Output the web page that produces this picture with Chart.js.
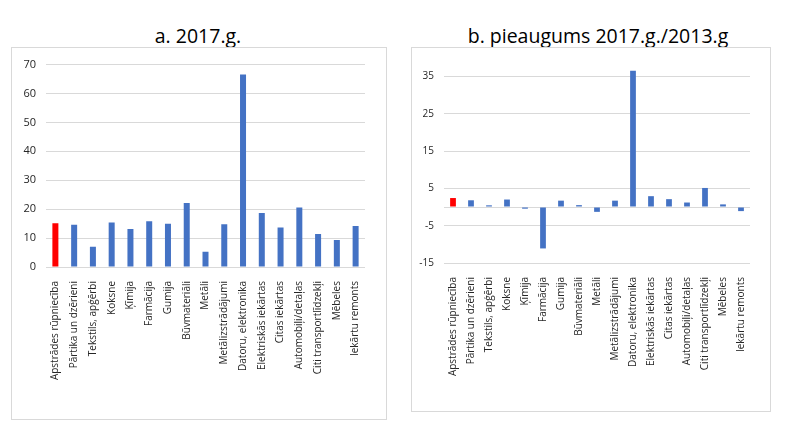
<!DOCTYPE html>
<html lang="lv">
<head>
<meta charset="utf-8">
<title>Apstrādes rūpniecība 2017.g.</title>
<script src="https://cdn.jsdelivr.net/npm/chart.js"></script>
<style>
  body { margin: 0; background: #fff; width: 800px; height: 446px; position: relative; overflow: hidden; font-family: "Open Sans", sans-serif; }
  .ttl { position: absolute; top: 24px; height: 24px; line-height: 24px; font-size: 19.5px; color: #000; text-align: center; white-space: nowrap; }
  .box { position: absolute; border: 1px solid #d9d9d9; }
  .box canvas { display: block; }
</style>
</head>
<body>
  <div class="ttl" style="left:98px; width:200px;">a. 2017.g.</div>
  <div class="ttl" style="left:448px; width:300px;">b. pieaugums 2017.g./2013.g</div>

  <div class="box" style="left:11px; top:47px;">
    <canvas id="chartA" width="374" height="371"></canvas>
  </div>
  <div class="box" style="left:411px; top:47px;">
    <canvas id="chartB" width="358" height="363"></canvas>
  </div>

<script>
// nozares
const categories = [
  'Apstrādes rūpniecība', 'Pārtika un dzērieni', 'Tekstils, apģērbi', 'Koksne', 'Ķīmija',
  'Farmācija', 'Gumija', 'Būvmateriāli', 'Metāli', 'Metālizstrādājumi',
  'Datoru, elektronika', 'Elektriskās iekārtas', 'Citas iekārtas', 'Automobiļi/detaļas',
  'Citi transportlīdzekļi', 'Mēbeles', 'Iekārtu remonts'
];

// a. 2017.g.
const values2017 = [15.1, 14.6, 7.0, 15.4, 13.1, 15.8, 15.0, 22.1, 5.3, 14.8, 66.6, 18.7, 13.7, 20.6, 11.4, 9.3, 14.2];
const ticksA = [0, 10, 20, 30, 40, 50, 60, 70];

// b. pieaugums 2017.g./2013.g
const growth = [2.4, 1.8, 0.45, 2.0, -0.45, -11.1, 1.7, 0.5, -1.3, 1.7, 36.5, 2.9, 2.1, 1.2, 5.1, 0.7, -1.1];
const ticksB = [-15, -5, 0, 5, 15, 25, 35];

const blue = '#4472c4';
const red = '#ff0000';
const barColors = categories.map((c, i) => i == 0 ? red : blue);

function makeChart(id, values, ticks, yMin, yMax, yWidth, xHeight, pad, tickSize) {
  return new Chart(document.getElementById(id).getContext('2d'), {
    type: 'bar',
    data: {
      labels: categories,
      datasets: [{
        data: values,
        backgroundColor: barColors,
        borderWidth: 0,
        categoryPercentage: 1,
        barPercentage: 0.32
      }]
    },
    options: {
      responsive: false,
      animation: false,
      layout: { padding: pad },
      plugins: {
        legend: { display: false },
        tooltip: { enabled: false }
      },
      scales: {
        x: {
          grid: { display: false },
          border: { display: false },
          ticks: {
            autoSkip: false,
            maxRotation: 90,
            minRotation: 90,
            padding: 6,
            color: '#262626',
            font: { family: 'Open Sans', size: 10 }
          },
          afterFit: s => { s.height = xHeight; }
        },
        y: {
          min: yMin,
          max: yMax,
          afterBuildTicks: s => { s.ticks = ticks.map(v => ({ value: v })); },
          grid: { color: '#d9d9d9', drawTicks: false, lineWidth: 1 },
          border: { display: false },
          ticks: {
            padding: 10,
            color: '#262626',
            font: { family: 'Open Sans', size: tickSize },
            callback: v => (yMin < 0 && v == 0) ? '' : v
          },
          afterFit: s => { s.width = yWidth; }
        }
      }
    }
  });
}

makeChart('chartA', values2017, ticksA, 0, 70, 34, 152, { top: 9, right: 21, left: 0, bottom: 0 }, 11);
makeChart('chartB', growth, ticksB, -15, 37.5, 32, 148, { top: 19, right: 20, left: 0, bottom: 0 }, 10);
</script>
</body>
</html>
